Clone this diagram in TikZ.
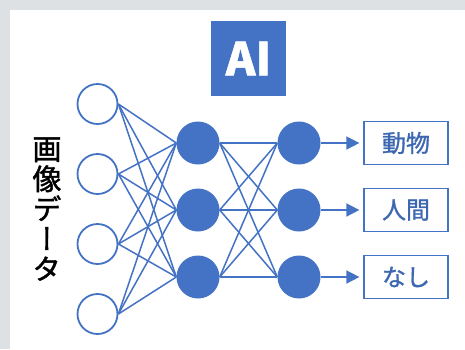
\documentclass[tikz,border=0pt]{standalone}
\usepackage{fontspec}
\newfontfamily\jpfont[RawFeature={embolden=1.2}]{Noto Sans CJK JP}
\newfontfamily\jpvert[RawFeature={+vert;embolden=1.5}]{Noto Sans CJK JP}
\usetikzlibrary{positioning}
\usetikzlibrary{arrows.meta}
\definecolor{aiblue}{HTML}{4472C4}
\definecolor{panelgray}{HTML}{DDE1E4}
\tikzset{node distance=70pt, % distance between the input circles
input/.style={ % open circles of the input layer
circle, draw=aiblue, line width=1.8pt,
minimum size=40pt, inner sep=0pt, fill=white},
hidden/.style={ % filled circles of the inner layers
circle, fill=aiblue, minimum size=43pt, inner sep=0pt},
result/.style={ % boxes with the answers
draw=aiblue, line width=1.2pt, minimum width=84pt, minimum height=43pt,
text=aiblue!90!black, font=\jpfont\fontsize{24}{24}\selectfont},
link/.style={ % weights between layers
draw=aiblue, line width=1.5pt},
outarrow/.style={ % arrows to the answers
draw=aiblue, line width=1.5pt,
-{Triangle[length=13pt,width=13pt]}, shorten >=4pt}}

\begin{document}
\begin{tikzpicture}[x=1pt,y=-1pt]
                \fill[panelgray] (0,0) rectangle (465,349);
                \fill[white] (10,10) rectangle (465,349);
                \useasboundingbox (0,0) rectangle (465,349);

                \node[fill=aiblue, minimum size=75pt, inner sep=0pt, text=white,
                      font=\jpfont\bfseries\fontsize{45}{45}\selectfont] (ai) at (248.5,58.5) {AI};

                \node[input] (in1) at (97.5,104) {};
                \node[input, below of = in1] (in2) {};
                \node[input, below of = in2] (in3) {};
                \node[input, below of = in3] (in4) {};

                \node[hidden] (h1) at (198,143) {};
                \node[hidden, node distance=67pt, below of = h1] (h2) {};
                \node[hidden, node distance=67pt, below of = h2] (h3) {};

                \node[hidden, node distance=101pt, right of = h1] (g1) {};
                \node[hidden, node distance=101pt, right of = h2] (g2) {};
                \node[hidden, node distance=101pt, right of = h3] (g3) {};

                \node[result, node distance=107pt, right of = g1] (r1) {動物};
                \node[result, node distance=107pt, right of = g2] (r2) {人間};
                \node[result, node distance=107pt, right of = g3] (r3) {なし};

                \node[align=center, inner sep=0pt,
                      font=\jpvert\fontsize{29}{30}\selectfont] (imgdata) at (47,209) {画\\像\\デ\\ー\\タ};

                \foreach \i in {1,...,4}
                    \foreach \j in {1,2,3}
                        \draw[link] (in\i.east) -- (h\j.west);
                \foreach \i in {1,2,3}
                    \foreach \j in {1,2,3}
                        \draw[link] (h\i.east) -- (g\j.west);
                \foreach \i in {1,2,3}
                    \draw[outarrow] (g\i) -- (r\i);
            \end{tikzpicture}
\end{document}
